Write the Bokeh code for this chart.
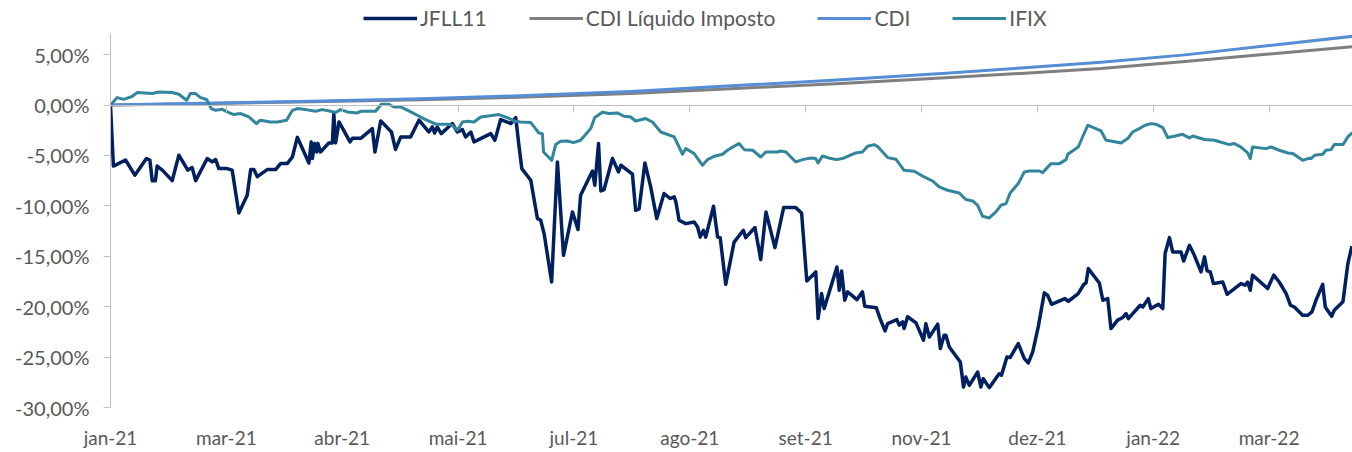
from bokeh.plotting import figure
from bokeh.models import Range1d, FixedTicker, LinearAxis, Legend, LegendItem
from bokeh.layouts import column
from bokeh.embed import file_html
from bokeh.resources import INLINE

# ---- data (x = days since first observation, y = cumulative return in %) ----
x_ticks = [0, 40, 80, 120, 160, 200, 240, 280, 320, 360, 400]
x_labels = ["jan-21", "mar-21", "abr-21", "mai-21", "jul-21", "ago-21",
            "set-21", "nov-21", "dez-21", "jan-22", "mar-22"]
y_ticks = [-30, -25, -20, -15, -10, -5, 0, 5]
y_labels = ["-30,00%", "-25,00%", "-20,00%", "-15,00%", "-10,00%", "-5,00%", "0,00%", "5,00%"]

series_names = ["JFLL11", "CDI Líquido Imposto", "CDI", "IFIX"]

jfll11 = [
    (0, 0), (1.0, -6.05), (5.2, -5.45), (8.4, -6.95), (12.4, -5.3), (13.6, -5.45), (14.4, -7.5),
    (15.5, -7.5), (16.1, -6.05), (17.9, -6.45), (21.3, -7.5), (23.6, -4.98), (26.7, -6.45),
    (28.2, -6.2), (29.4, -7.5), (33.4, -5.3), (35.1, -5.64), (36.3, -5.4), (37.4, -6.3),
    (40.3, -6.3), (42.0, -6.45), (44.3, -10.7), (47.2, -8.95), (48.4, -6.4), (49.5, -6.4),
    (50.7, -7.1), (54.1, -6.4), (57.0, -6.4), (58.7, -5.8), (61.0, -5.8), (62.8, -5.15),
    (64.5, -3.2), (68.5, -5.75), (69.3, -3.65), (69.7, -5.3), (70.5, -3.8), (71.2, -4.65),
    (71.6, -3.8), (72.5, -4.65), (75.4, -3.75), (76.6, -3.75), (77.1, -0.85), (77.7, -3.75),
    (78.9, -1.67), (82.7, -3.65), (83.5, -3.3), (86.4, -3.3), (90.4, -2.33), (91.3, -4.65),
    (93.3, -1.57), (97.0, -2.67), (98.4, -4.4), (100.2, -3.16), (103.6, -3.16), (106.5, -1.5),
    (109.9, -2.67), (111.1, -2.17), (111.9, -2.77), (112.8, -2.17), (114.2, -2.83), (118.0, -1.83),
    (119.8, -2.67), (121.5, -2.43), (122.6, -3.16), (124.4, -2.67), (125.5, -3.65), (131.3, -2.83),
    (132.7, -3.5), (134.7, -1.44), (138.2, -1.83), (139.9, -1.24), (141.0, -3.99), (142.0, -6.3),
    (145.1, -7.46), (147.4, -11.26), (148.5, -11.4), (149.7, -12.75), (152.3, -17.55), (154.3, -5.64),
    (156.4, -14.9), (159.5, -10.6), (161.4, -12.35), (162.3, -8.95), (166.4, -6.54), (167.2, -7.96),
    (168.5, -3.82), (169.3, -8.52), (170.4, -8.38), (173.3, -5.3), (175.4, -6.63), (176.2, -5.97),
    (180.2, -6.86), (181.3, -10.44), (182.5, -10.3), (184.5, -5.74), (186.5, -8.12), (188.6, -11.26),
    (191.1, -8.77), (193.2, -9.27), (194.6, -9.1), (195.2, -9.6), (196.3, -11.43), (198.6, -11.76),
    (201.5, -11.6), (202.7, -12.1), (203.6, -13.1), (204.7, -12.42), (205.5, -13.1), (208.2, -10.04),
    (209.6, -13.1), (210.5, -13.15), (212.4, -17.78), (215.3, -13.6), (218.5, -12.42), (219.3, -13.15),
    (222.5, -12.15), (224.5, -15.33), (226.3, -10.6), (229.4, -14.14), (232.4, -10.17), (236.6, -10.17),
    (238.6, -10.7), (240.4, -17.45), (243.5, -16.55), (244.3, -21.18), (245.5, -18.7), (246.4, -20.19),
    (250.8, -16.06), (251.6, -18.37), (252.4, -16.45), (253.5, -19.36), (254.5, -18.53), (257.7, -19.3),
    (259.6, -18.53), (260.4, -19.96), (264.4, -20.1), (265.7, -21.18), (267.4, -22.4), (268.3, -21.68),
    (271.5, -21.28), (272.3, -21.83), (273.5, -21.5), (274.0, -22.17), (275.2, -21.0), (278.1, -21.6),
    (280.7, -23.33), (281.5, -21.68), (282.7, -23.0), (285.6, -21.73), (286.5, -24.15), (287.8, -22.83),
    (288.4, -22.83), (289.6, -24.0), (293.4, -25.49), (294.5, -27.97), (295.3, -26.98), (296.5, -27.8),
    (299.4, -26.48), (300.5, -27.97), (301.3, -27.14), (303.4, -28.03), (306.8, -26.65), (307.6, -26.8),
    (309.5, -24.99), (310.6, -25.05), (313.4, -23.66), (315.5, -25.15), (316.9, -25.58), (318.4, -24.49),
    (320.3, -22.0), (322.4, -18.63), (323.5, -18.85), (324.9, -19.76), (329.5, -19.2), (330.7, -19.46),
    (334.1, -18.7), (336.0, -17.8), (336.8, -17.65), (337.6, -16.22), (341.4, -17.65), (342.6, -19.36),
    (344.3, -19.2), (345.4, -22.17), (347.7, -21.33), (349.5, -21.07), (350.6, -20.68), (351.4, -21.18),
    (355.5, -19.86), (356.4, -20.03), (358.3, -19.2), (359.2, -20.19), (361.8, -19.76), (363.3, -20.19),
    (364.1, -14.73), (365.6, -13.15), (366.7, -14.57), (369.6, -14.57), (370.5, -15.47), (372.5, -13.91),
    (374.2, -14.9), (376.5, -16.55), (377.7, -15.06), (378.6, -16.45), (379.7, -16.55), (380.8, -17.71),
    (384.0, -17.55), (385.5, -18.77), (390.3, -17.71), (391.7, -17.87), (392.6, -17.55), (393.5, -18.37),
    (394.3, -16.87), (399.5, -18.2), (401.6, -16.87), (403.5, -17.55), (405.9, -18.7), (407.4, -19.86),
    (408.7, -20.03), (411.6, -20.85), (413.4, -20.85), (414.8, -20.52), (416.2, -19.36), (418.5, -17.78),
    (419.4, -20.03), (421.6, -20.95), (422.5, -20.35), (425.5, -19.51), (427.2, -15.73), (428.6, -14.0),
]

ifix = [
    (0, 0), (2.3, 0.74), (4.6, 0.57), (7.5, 0.87), (9.2, 1.24), (14.4, 1.14), (16.7, 1.3), (21.3, 1.24),
    (23.6, 1.07), (26.3, 0.48), (27.6, 1.14), (29.4, 1.14), (31.1, 0.74), (33.2, 0.55), (34.8, -0.35),
    (36.3, -0.52), (38.6, -0.42), (40.3, -0.68), (42.6, -0.94), (44.9, -0.84), (47.8, -1.18),
    (50.4, -1.84), (51.6, -1.51), (55.3, -1.68), (57.6, -1.68), (60.8, -1.51), (62.8, -0.52),
    (64.5, -0.35), (67.4, -0.45), (70.8, -0.62), (73.1, -0.45), (76.0, -0.62), (77.7, -0.74),
    (79.4, -0.45), (81.8, -0.68), (85.2, -0.78), (86.4, -0.62), (91.5, -0.62), (93.5, 0.08),
    (96.1, 0.08), (97.9, -0.19), (100.2, -0.19), (103.0, -0.58), (105.9, -1.01), (108.8, -1.44),
    (112.3, -1.9), (116.3, -1.9), (118.0, -2.0), (119.8, -2.5), (121.5, -1.68), (123.2, -1.61),
    (125.5, -1.68), (127.8, -1.18), (132.4, -1.01), (134.1, -0.94), (137.0, -1.24), (139.3, -1.57),
    (141.6, -1.68), (145.1, -1.74), (147.9, -2.77), (149.1, -2.83), (149.5, -4.65), (152.3, -5.48),
    (153.7, -3.92), (155.4, -3.59), (157.8, -3.56), (159.8, -3.72), (162.3, -3.49), (165.8, -2.33),
    (167.2, -1.24), (169.8, -0.71), (172.1, -0.84), (175.0, -0.78), (177.3, -1.11), (179.6, -1.18),
    (181.3, -1.58), (184.8, -1.34), (187.1, -1.68), (190.0, -2.67), (194.6, -3.16), (197.5, -4.88),
    (198.6, -4.32), (201.5, -4.81), (204.4, -5.97), (206.1, -5.41), (208.4, -5.08), (211.3, -4.88),
    (213.0, -4.48), (215.2, -4.1), (217.0, -3.82), (218.8, -4.42), (221.7, -4.48), (224.5, -5.15),
    (226.3, -4.65), (230.3, -4.65), (231.4, -4.55), (233.2, -4.65), (236.6, -5.64), (238.9, -5.41),
    (241.8, -5.25), (243.5, -5.31), (244.3, -5.74), (245.8, -5.05), (248.7, -5.31), (250.8, -5.41),
    (253.3, -5.25), (257.3, -4.75), (259.6, -4.65), (261.4, -4.09), (263.6, -3.92), (264.8, -4.09),
    (268.3, -5.21), (271.2, -5.38), (274.0, -6.47), (277.5, -6.57), (280.9, -7.13), (283.8, -7.53),
    (286.1, -8.12), (289.0, -8.45), (293.0, -8.72), (295.3, -9.37), (297.7, -9.51), (299.4, -9.94),
    (301.1, -11.03), (303.4, -11.2), (305.7, -10.6), (307.4, -9.94), (309.2, -9.77), (310.6, -8.72),
    (313.4, -7.79), (315.5, -6.64), (317.2, -6.54), (320.7, -6.54), (321.8, -6.7), (324.7, -5.81),
    (327.6, -5.81), (329.9, -5.41), (330.5, -4.88), (334.1, -4.16), (337.4, -2.0), (342.0, -2.57),
    (343.7, -3.49), (345.4, -3.56), (348.9, -3.76), (351.2, -3.32), (352.9, -2.67), (355.8, -2.23),
    (357.2, -2.0), (359.2, -1.84), (360.9, -1.9), (363.3, -2.23), (365.0, -3.22), (367.3, -3.1),
    (370.1, -2.9), (372.5, -3.26), (373.6, -3.07), (377.7, -3.42), (381.1, -3.49), (386.3, -3.92),
    (388.0, -3.82), (390.3, -4.16), (392.6, -4.75), (393.5, -5.31), (394.3, -4.16), (398.9, -4.32),
    (400.7, -4.16), (403.5, -4.48), (406.5, -4.75), (408.2, -4.81), (411.6, -5.48), (413.4, -5.31),
    (414.5, -5.31), (415.7, -4.98), (418.5, -4.88), (419.6, -4.48), (421.4, -4.42), (422.5, -3.92),
    (425.5, -3.92), (427.2, -3.16), (428.7, -2.73),
]

cdi_days = [0, 31.1, 69.1, 107.1, 143.4, 179.6, 215.9, 252.2, 288.4, 314.3, 342.0, 371.0, 400.0, 428.8]
cdi = [0, 0.17, 0.38, 0.62, 0.94, 1.35, 1.93, 2.5, 3.15, 3.68, 4.24, 4.98, 5.9, 6.82]
cdi_liquido = [0, 0.14, 0.32, 0.53, 0.8, 1.15, 1.65, 2.14, 2.7, 3.14, 3.63, 4.33, 5.07, 5.8]

colors = ["#002060", "#7F7F7F", "#558ED5", "#31859C"]
widths = [3.5, 3, 3, 3]

FONT = "Lato"
TXT = "#595959"
AXIS = "#BFBFBF"

jx, jy = [list(t) for t in zip(*jfll11)]
ix, iy = [list(t) for t in zip(*ifix)]
series_xy = [(jx, jy), (cdi_days, cdi_liquido), (cdi_days, cdi), (ix, iy)]

# ---------------- main chart ----------------
p = figure(width=1352, height=419, output_backend="svg", toolbar_location=None,
           x_range=Range1d(0, 428.8), y_range=Range1d(-30, 7.1),
           min_border_left=110, min_border_right=0, min_border_top=0, min_border_bottom=45)
p.outline_line_color = None
p.xgrid.visible = False
p.ygrid.visible = False
p.background_fill_color = "white"
p.border_fill_color = "white"

for (xs, ys), c, w in zip(series_xy, colors, widths):
    p.line(xs, ys, line_color=c, line_width=w, line_join="round")

# y axis
ya = p.yaxis[0]
ya.ticker = FixedTicker(ticks=y_ticks)
ya.major_label_overrides = dict(zip(y_ticks, y_labels))
ya.axis_line_color = AXIS
ya.major_tick_line_color = AXIS
ya.minor_tick_line_color = None
ya.major_tick_out = 7
ya.major_tick_in = 0
ya.major_label_standoff = 14
ya.major_label_text_font = FONT
ya.major_label_text_font_size = "20px"
ya.major_label_text_color = TXT

# bottom x axis: labels only
xa = p.xaxis[0]
xa.ticker = FixedTicker(ticks=x_ticks)
xa.major_label_overrides = dict(zip(x_ticks, x_labels))
xa.axis_line_color = None
xa.major_tick_line_color = None
xa.minor_tick_line_color = None
xa.major_tick_out = 0
xa.major_tick_in = 0
xa.major_label_standoff = 18
xa.major_label_text_font = FONT
xa.major_label_text_font_size = "19px"
xa.major_label_text_color = TXT

# category axis line crossing at 0
za = LinearAxis(fixed_location=0, ticker=FixedTicker(ticks=x_ticks),
                axis_line_color=AXIS, major_tick_line_color=AXIS, minor_tick_line_color=None,
                major_tick_out=7, major_tick_in=0, major_label_text_color=None,
                major_label_text_font_size="1px")
p.add_layout(za, "below")

# ---------------- legend strip (series drawn off-range; only the legend shows) ----------------
lg = figure(width=1352, height=33, output_backend="svg", toolbar_location=None,
            x_axis_location=None, y_axis_location=None,
            x_range=Range1d(0, 428.8), y_range=Range1d(100, 101),
            min_border_left=0, min_border_right=0, min_border_top=0, min_border_bottom=0)
lg.outline_line_color = None
lg.grid.visible = False
lg.border_fill_color = "white"
lrs = [lg.line(xs, ys, line_color=c, line_width=w) for (xs, ys), c, w in zip(series_xy, colors, widths)]
legend = Legend(items=[LegendItem(label=n, renderers=[r]) for n, r in zip(series_names, lrs)],
                orientation="horizontal", location=(253, 3),
                glyph_width=54, glyph_height=20, label_standoff=3, spacing=42,
                padding=0, margin=0, label_text_font=FONT, label_text_font_size="21px",
                label_text_color=TXT, border_line_color=None, background_fill_alpha=0)
lg.add_layout(legend, "center")

layout = column(lg, p, spacing=0)
open("out.html", "w").write(file_html(layout, INLINE))
